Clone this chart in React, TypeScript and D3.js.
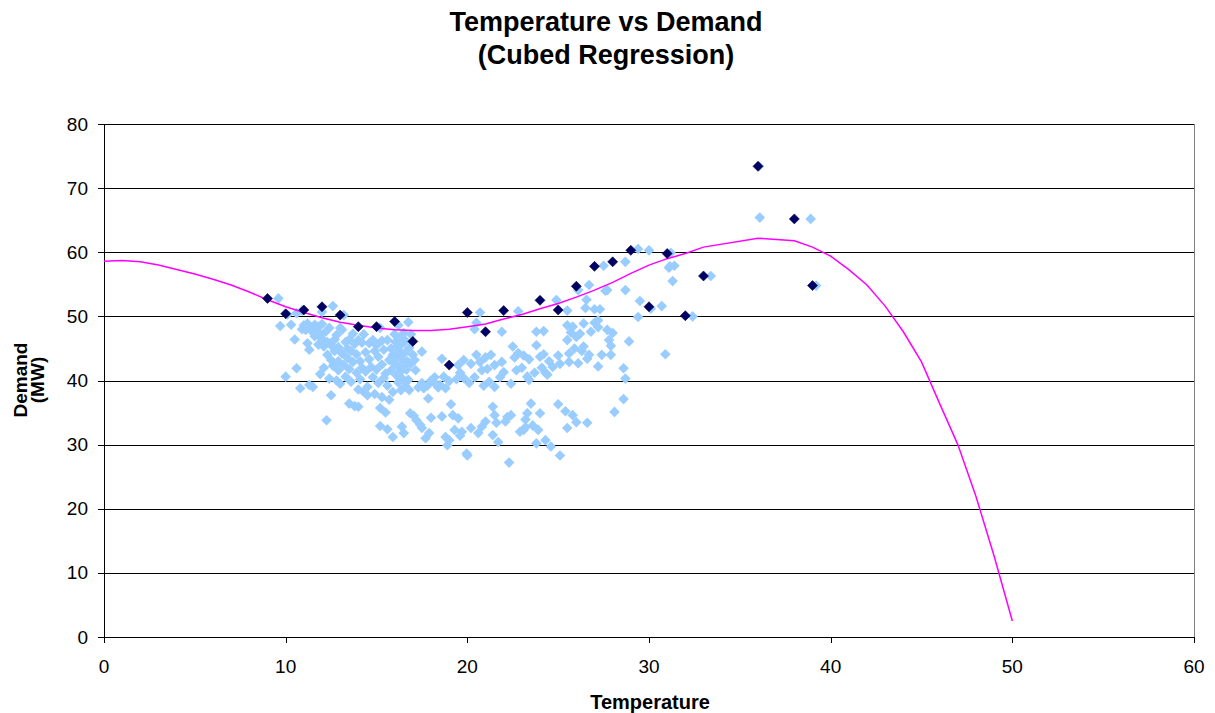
import React from "react";
import * as d3 from "d3";

// Observed demand by temperature (light series)
const observed: [number, number][] = [
  [9.6, 52.8], [9.7, 48.5], [10.0, 40.6], [10.1, 50.3], [10.3, 48.7], [10.5, 46.4], [10.6, 50.5], [10.6, 41.9], [10.8, 38.8], [10.9, 48.0], [10.9, 50.9],
  [11.0, 48.6], [11.1, 47.9], [11.2, 48.9], [11.2, 45.8], [11.3, 44.8], [11.3, 39.3], [11.4, 48.2], [11.5, 47.5], [11.5, 39.0], [11.6, 48.7], [11.6, 46.9], [11.7, 47.9], [11.8, 48.4], [11.8, 45.6], [11.9, 47.2], [11.9, 41.0], [12.0, 50.7], [12.0, 48.8], [12.0, 46.5],
  [12.1, 45.3], [12.1, 42.0], [12.2, 47.6], [12.25, 33.8], [12.3, 46.0], [12.3, 44.0], [12.4, 48.2], [12.4, 40.3], [12.5, 45.5], [12.5, 43.2], [12.5, 37.7], [12.6, 51.6], [12.6, 42.3], [12.7, 46.4], [12.7, 44.6], [12.8, 47.1], [12.8, 40.0], [12.9, 45.2], [12.9, 43.0], [12.9, 41.6], [13.0, 48.2], [13.0, 39.5],
  [13.1, 47.9], [13.1, 44.2], [13.2, 50.2], [13.2, 42.4], [13.3, 46.0], [13.3, 40.6], [13.4, 45.0], [13.4, 43.5], [13.5, 46.4], [13.5, 41.8], [13.5, 36.4], [13.6, 44.6], [13.6, 39.8], [13.7, 42.9], [13.7, 47.3], [13.8, 45.7], [13.8, 36.0], [13.9, 41.2], [13.9, 44.1], [14.0, 46.3], [14.0, 38.6], [14.0, 35.9],
  [14.1, 43.0], [14.1, 40.2], [14.2, 45.9], [14.2, 42.0], [14.3, 38.2], [14.3, 47.2], [14.4, 44.4], [14.4, 41.4], [14.5, 39.0], [14.5, 37.7], [14.6, 45.8], [14.6, 43.3], [14.7, 42.1], [14.8, 46.3], [14.8, 40.5], [14.9, 44.6], [14.9, 37.9], [15.0, 45.5], [15.0, 41.7],
  [15.1, 43.7], [15.1, 39.6], [15.2, 48.2], [15.2, 35.7], [15.2, 32.9], [15.3, 46.2], [15.3, 42.5], [15.3, 37.4], [15.4, 40.4], [15.4, 44.8], [15.5, 41.1], [15.5, 35.0], [15.6, 46.3], [15.6, 39.2], [15.6, 32.4], [15.7, 43.2], [15.7, 37.0], [15.8, 45.0], [15.8, 41.6], [15.9, 38.2], [15.9, 31.2], [15.9, 44.0], [16.0, 47.2], [16.0, 42.6],
  [16.05, 46.0], [16.1, 40.8], [16.1, 45.2], [16.15, 43.8], [16.2, 48.6], [16.2, 39.7], [16.2, 42.2], [16.25, 44.6], [16.3, 46.5], [16.3, 41.3], [16.35, 38.5], [16.4, 43.3], [16.4, 45.7], [16.4, 32.8], [16.45, 40.2], [16.5, 47.4], [16.5, 42.0], [16.5, 31.8], [16.55, 44.3], [16.6, 39.1], [16.6, 46.2], [16.65, 41.7], [16.7, 43.0], [16.75, 49.1], [16.75, 40.1], [16.8, 45.1], [16.8, 38.5], [16.85, 34.9], [16.9, 47.2], [16.9, 42.6],
  [17.0, 44.0], [17.05, 34.5], [17.1, 43.2], [17.15, 41.6], [17.2, 33.8], [17.3, 38.9], [17.4, 33.1], [17.5, 44.5], [17.5, 39.6], [17.5, 32.6], [17.6, 38.8], [17.7, 31.0], [17.8, 39.2], [17.85, 37.2], [17.9, 31.8], [18.0, 40.0], [18.0, 34.2],
  [18.2, 39.6], [18.2, 40.5], [18.4, 38.9], [18.5, 39.3], [18.6, 43.4], [18.6, 34.4], [18.7, 40.6], [18.8, 31.2], [18.8, 38.8], [18.9, 29.9], [19.0, 39.9], [19.0, 30.7],
  [19.1, 36.3], [19.2, 34.6], [19.3, 32.3], [19.4, 40.2], [19.5, 42.4], [19.5, 34.1], [19.6, 41.2], [19.6, 31.4], [19.7, 32.0], [19.8, 40.4], [19.8, 43.2], [19.96, 28.6], [20.0, 28.3],
  [20.1, 39.6], [20.2, 42.6], [20.2, 32.6], [20.4, 48.0], [20.4, 40.5], [20.5, 49.0], [20.5, 44.0], [20.6, 31.8], [20.7, 50.6], [20.7, 42.9], [20.8, 41.6], [20.8, 32.8], [20.9, 39.2], [21.0, 33.6], [21.0, 43.6],
  [21.1, 41.8], [21.2, 39.8], [21.3, 44.0], [21.4, 35.9], [21.4, 31.5], [21.5, 42.4], [21.5, 39.0], [21.5, 34.6], [21.6, 33.4], [21.7, 30.4], [21.8, 40.5], [21.9, 42.9], [21.9, 47.6], [22.0, 41.3], [22.1, 33.6],
  [22.2, 34.3], [22.3, 27.2], [22.4, 34.6], [22.4, 39.5], [22.5, 45.3], [22.6, 43.6], [22.7, 41.6], [22.8, 50.8], [22.8, 44.3], [22.9, 32.0], [23.0, 42.0], [23.1, 32.3], [23.1, 43.9], [23.2, 33.9], [23.2, 32.7],
  [23.3, 40.6], [23.3, 34.9], [23.4, 40.1], [23.4, 43.3], [23.5, 36.4], [23.6, 33.0], [23.7, 41.2], [23.8, 47.6], [23.8, 45.5], [23.8, 30.2], [23.9, 32.3], [24.0, 34.9], [24.0, 43.7],
  [24.1, 42.0], [24.2, 47.7], [24.2, 44.1], [24.3, 41.2], [24.3, 30.7], [24.4, 40.9], [24.5, 43.0], [24.6, 29.7], [24.7, 42.1], [24.9, 52.55], [25.0, 43.9], [25.0, 36.3], [25.1, 28.3], [25.1, 42.6],
  [25.4, 35.2], [25.5, 50.9], [25.5, 46.3], [25.5, 48.6], [25.5, 32.6], [25.6, 42.9], [25.6, 44.2], [25.7, 47.5], [25.8, 34.6], [25.8, 48.4], [25.9, 45.0], [26.0, 33.5], [26.0, 46.8],
  [26.1, 54.1], [26.1, 42.7], [26.2, 47.3], [26.3, 44.6], [26.4, 48.9], [26.4, 45.3], [26.5, 51.3], [26.56, 52.6], [26.6, 33.4], [26.6, 43.4], [26.7, 54.9], [26.7, 44.0], [26.8, 47.6], [27.0, 51.1], [27.0, 49.0],
  [27.2, 49.4], [27.2, 48.3], [27.2, 42.2], [27.3, 51.1], [27.4, 44.0], [27.5, 57.9], [27.6, 54.0], [27.7, 54.1], [27.7, 47.9], [27.8, 46.3], [27.9, 45.4], [27.9, 44.0], [28.0, 47.4], [28.1, 35.1],
  [28.6, 41.9], [28.6, 37.1], [28.7, 58.5], [28.7, 54.1], [28.7, 40.3], [28.9, 46.1],
  [29.4, 60.5], [29.4, 49.9], [29.5, 52.4], [30.0, 60.3], [30.1, 51.2], [30.7, 51.6], [30.9, 44.1], [31.1, 57.6], [31.15, 57.8], [31.2, 59.9], [31.3, 55.5], [31.4, 57.9],
  [32.4, 50.0], [33.4, 56.3], [36.05, 73.4], [36.1, 65.4], [38.9, 65.2], [39.2, 54.8],
];

// Peak demand per whole-degree temperature (dark series)
const peakTemps = [9, 10, 11, 12, 13, 14, 15, 16, 17, 19, 20, 21, 22, 24, 25, 26, 27, 28, 29, 30, 31, 32, 33, 36, 38, 39];
const peakDemand = [52.8, 50.4, 51.0, 51.5, 50.2, 48.4, 48.4, 49.2, 46.1, 42.4, 50.6, 47.6, 50.9, 52.5, 51.0, 54.7, 57.8, 58.5, 60.3, 51.5, 59.8, 50.1, 56.3, 73.4, 65.2, 54.8];

// Cubed regression curve evaluated at temperatures
const fitTemps = [0, 1, 2, 3, 4, 5, 6, 7, 8, 9, 10, 11, 12, 13, 14, 15, 16, 17, 18, 19, 20, 21, 22, 23, 24, 25, 26, 27, 28, 29, 30, 31, 32, 33, 36, 38, 39, 40, 41, 42, 43, 44, 45, 46, 47, 48, 49, 50];
const fitDemand = [58.6, 58.7, 58.5, 58.0, 57.3, 56.6, 55.8, 54.9, 53.8, 52.6, 51.5, 50.6, 49.8, 49.1, 48.6, 48.2, 47.9, 47.8, 47.8, 48.0, 48.4, 48.8, 49.6, 50.3, 51.2, 52.0, 53.0, 54.1, 55.3, 56.7, 58.0, 59.0, 59.8, 60.8, 62.2, 61.8, 60.8, 59.4, 57.3, 54.9, 51.6, 47.6, 42.9, 36.4, 30.0, 21.9, 12.6, 2.5];

const xTicks = [0, 10, 20, 30, 40, 50, 60];
const yTicks = [0, 10, 20, 30, 40, 50, 60, 70, 80];

const W = 1215;
const H = 713;
const plot = { left: 104, right: 1194, top: 124, bottom: 637 };
const FONT = "'Liberation Sans', Arial, Helvetica, sans-serif";

const diamond = (cx: number, cy: number, r: number) =>
  `M${cx},${cy - r}L${cx + r},${cy}L${cx},${cy + r}L${cx - r},${cy}Z`;

export default function App() {
  const x = d3.scaleLinear().domain([0, 60]).range([plot.left, plot.right]);
  const y = d3.scaleLinear().domain([0, 80]).range([plot.bottom, plot.top]);

  const fitLine = d3
    .line<number>()
    .x((_, i) => x(fitTemps[i]))
    .y((d) => y(d))(fitDemand) as string;

  return (
    <svg
      width={W}
      height={H}
      viewBox={`0 0 ${W} ${H}`}
      style={{ position: "absolute", left: 0, top: 0, background: "#fff" }}
      fontFamily={FONT}
    >
      <rect x={0} y={0} width={W} height={H} fill="#fff" />

      {/* title */}
      <text x={606} y={31} textAnchor="middle" fontSize={27} fontWeight="bold" fill="#000">
        Temperature vs Demand
      </text>
      <text x={606} y={64} textAnchor="middle" fontSize={27} fontWeight="bold" fill="#000">
        (Cubed Regression)
      </text>

      {/* gridlines */}
      {yTicks.map((t) => (
        <line
          key={`g${t}`}
          x1={plot.left}
          x2={plot.right}
          y1={Math.round(y(t)) + 0.5}
          y2={Math.round(y(t)) + 0.5}
          stroke="#000"
          strokeWidth={1}
        />
      ))}
      {/* right border */}
      <line x1={plot.right + 0.5} x2={plot.right + 0.5} y1={plot.top} y2={plot.bottom} stroke="#808080" strokeWidth={1} />

      {/* axes */}
      <line x1={plot.left + 0.5} x2={plot.left + 0.5} y1={plot.top} y2={plot.bottom + 1} stroke="#000" strokeWidth={1} />
      <line x1={plot.left} x2={plot.right + 1} y1={Math.round(y(0)) + 0.5} y2={Math.round(y(0)) + 0.5} stroke="#000" strokeWidth={1} />

      {yTicks.map((t) => (
        <g key={`yt${t}`}>
          <line x1={plot.left - 6} x2={plot.left} y1={Math.round(y(t)) + 0.5} y2={Math.round(y(t)) + 0.5} stroke="#000" />
          <text x={plot.left - 16} y={y(t) + 6.5} textAnchor="end" fontSize={19} fill="#000">
            {t}
          </text>
        </g>
      ))}
      {xTicks.map((t) => (
        <g key={`xt${t}`}>
          <line x1={Math.round(x(t)) + 0.5} x2={Math.round(x(t)) + 0.5} y1={plot.bottom} y2={plot.bottom + 6} stroke="#000" />
          <text x={x(t)} y={673} textAnchor="middle" fontSize={19} fill="#000">
            {t}
          </text>
        </g>
      ))}

      {/* axis titles */}
      <text x={650} y={709} textAnchor="middle" fontSize={20} fontWeight="bold" fill="#000">
        Temperature
      </text>
      <g transform="translate(27,380) rotate(-90)">
        <text x={0} y={0} textAnchor="middle" fontSize={19} fontWeight="bold" fill="#000">
          Demand
        </text>
        <text x={0} y={17} textAnchor="middle" fontSize={19} fontWeight="bold" fill="#000">
          (MW)
        </text>
      </g>

      {/* observed points */}
      <g fill="#99CCFF">
        {observed.map(([t, d], i) => (
          <path key={`o${i}`} d={diamond(x(t), y(d), 5.3)} />
        ))}
      </g>

      {/* regression curve */}
      <path d={fitLine} fill="none" stroke="#FF00FF" strokeWidth={1.5} />

      {/* peak points */}
      <g fill="#000066" stroke="#000033" strokeWidth={0.6}>
        {peakTemps.map((t, i) => (
          <path key={`p${i}`} d={diamond(x(t), y(peakDemand[i]), 5)} />
        ))}
      </g>
    </svg>
  );
}
